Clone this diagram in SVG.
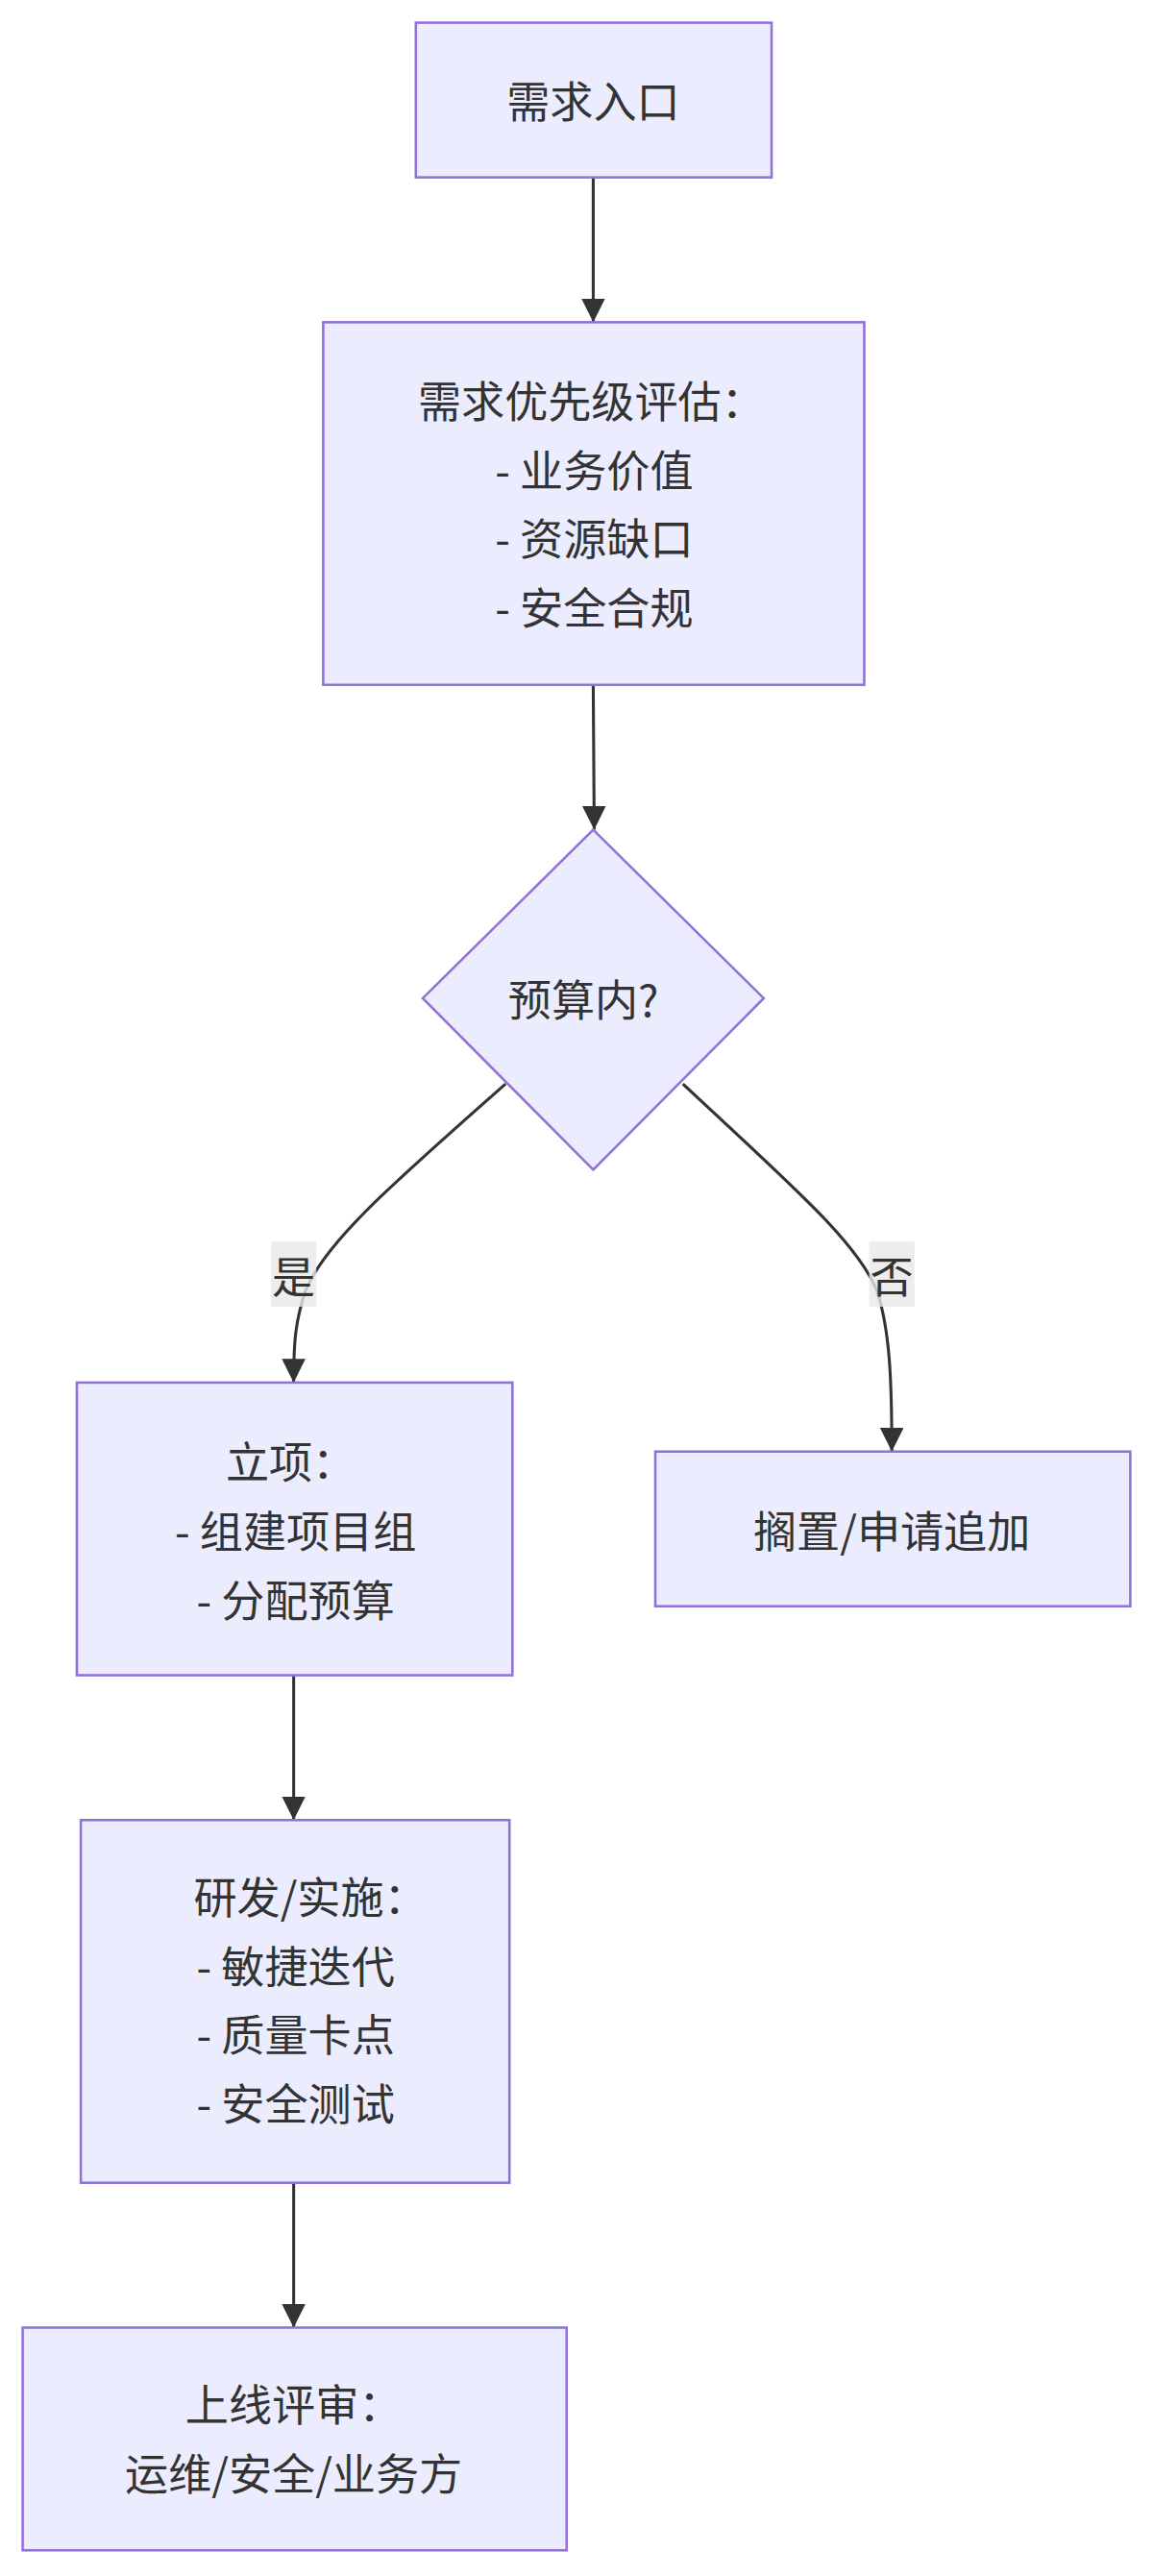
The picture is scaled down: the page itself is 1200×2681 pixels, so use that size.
<svg xmlns="http://www.w3.org/2000/svg" width="1200" height="2681" viewBox="0 0 1200 2681">
<style>
.n{fill:#ECECFF;stroke:#9370DB;stroke-width:2.5}
text{font-family:"Noto Sans CJK SC","Noto Sans",sans-serif;font-size:44px;fill:#333;text-anchor:middle;dominant-baseline:central}
.e{fill:none;stroke:#333;stroke-width:3}
.lb{fill:#e8e8e8;opacity:0.8}
</style>
<defs><marker id="a" viewBox="0 0 10 10" refX="10" refY="5" markerWidth="8" markerHeight="8" markerUnits="strokeWidth" orient="auto"><path d="M0,0L10,5L0,10z" fill="#333"/></marker></defs>
<g transform="scale(1.0256)">
<g id="edges">
<path class="e" marker-end="url(#a)" d="M602,180L602,327"/>
<path class="e" marker-end="url(#a)" d="M602,695L603,842"/>
<path class="e" marker-end="url(#a)" d="M513,1100C400,1200 330,1260 310,1310C300,1340 298,1360 298,1403"/>
<path class="e" marker-end="url(#a)" d="M693,1100C800,1200 870,1260 890,1310C903,1350 905,1400 905,1473"/>
<path class="e" marker-end="url(#a)" d="M298,1700L298,1847"/>
<path class="e" marker-end="url(#a)" d="M298,2215L298,2362"/>
<rect class="lb" x="275" y="1260" width="46" height="66"/><text x="298" y="1293">是</text>
<rect class="lb" x="882" y="1260" width="46" height="66"/><text x="905" y="1293">否</text>
</g>
<g id="n1"><rect class="n" x="422" y="23" width="361" height="157"/><text x="602" y="101">需求入口</text></g>
<g id="n2"><rect class="n" x="328" y="327" width="549" height="368"/><text x="600" y="405">需求优先级评估：</text><text x="603" y="475">- 业务价值</text><text x="603" y="545">- 资源缺口</text><text x="603" y="615">- 安全合规</text></g>
<g id="n3"><polygon class="n" points="602,842 775,1013 602,1187 429,1013"/><text x="592" y="1013">预算内?</text></g>
<g id="n4"><rect class="n" x="78" y="1403" width="442" height="297"/><text x="295" y="1482">立项：</text><text x="300" y="1552">- 组建项目组</text><text x="300" y="1622">- 分配预算</text></g>
<g id="n5"><rect class="n" x="665" y="1473" width="482" height="157"/><text x="905" y="1552">搁置/申请追加</text></g>
<g id="n6"><rect class="n" x="82" y="1847" width="435" height="368"/><text x="315" y="1923">研发/实施：</text><text x="300" y="1993">- 敏捷迭代</text><text x="300" y="2063">- 质量卡点</text><text x="300" y="2133">- 安全测试</text></g>
<g id="n7"><rect class="n" x="23" y="2362" width="552" height="226"/><text x="298" y="2438">上线评审：</text><text x="298" y="2508">运维/安全/业务方</text></g>
</g>
</svg>
